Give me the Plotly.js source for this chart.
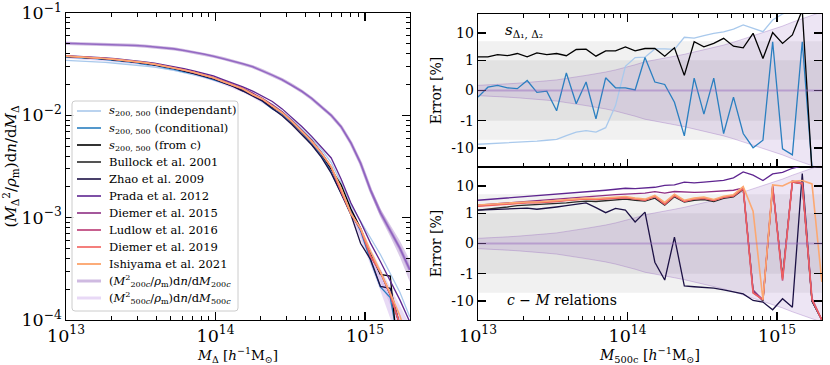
<!DOCTYPE html>
<html><head><meta charset="utf-8">
<script src="https://cdn.plot.ly/plotly-3.0.1.min.js"></script>
<style>body{margin:0;background:#fff}#chart{width:830px;height:365px}</style>
</head><body><div id="chart"></div>
<script>
// ---------- DATA ----------
const logMass = [13.000,13.066,13.131,13.197,13.263,13.329,13.394,13.460,13.526,13.591,13.657,13.723,13.789,13.854,13.920,13.986,14.051,14.117,14.183,14.249,14.314,14.380,14.446,14.511,14.577,14.643,14.709,14.774,14.840,14.906,14.971,15.037,15.103,15.169,15.234,15.300];
const massFunc500c = [0.03715,0.03673,0.03622,0.03573,0.03508,0.03436,0.03365,0.03273,0.03177,0.03069,0.02944,0.02812,0.02679,0.02541,0.02388,0.02239,0.02070,0.01901,0.01738,0.01560,0.01377,0.01197,0.01023,0.00841,0.00676,0.00537,0.00407,0.00288,0.00191,0.00120,0.000708,0.000427,0.000257,0.000158,0.0000977,0.0000562];
const massFunc200c = [0.05058,0.05035,0.05012,0.04989,0.04955,0.04920,0.04875,0.04819,0.04753,0.04667,0.04571,0.04457,0.04305,0.04150,0.03972,0.03784,0.03589,0.03388,0.03199,0.02979,0.02723,0.02472,0.02228,0.01972,0.01718,0.01462,0.01216,0.01000,0.00776,0.00537,0.00339,0.00186,0.00112,0.000759,0.000501,0.000309];
// mass-function uncertainty [%]
const errBand = [0.17,0.18,0.2,0.22,0.24,0.26,0.29,0.32,0.35,0.39,0.45,0.5,0.55,0.61,0.68,0.76,0.85,0.95,1.05,1.2,1.4,1.65,2.0,2.4,2.9,3.6,4.6,6,8,10.5,14,18,25,34,45,60];
// scatter-model errors [%]
const errIndependant = [-7.3,-7.0,-6.8,-6.6,-6.3,-6.0,-5.6,-5.2,-4.8,-3.5,-2.6,-2.3,-2.6,-1.8,-0.5,0.8,1.26,1.3,2.6,2.6,2.5,7.0,6.5,8,9.8,11,14,20,15,11.2,30,50,70,80,90,90];
const errConditional = [-0.22,0.11,0.17,0.09,0.06,0.33,-0.06,-0.02,-0.67,0.58,-0.44,0.28,-0.94,0.42,0.09,0.09,0.02,1.26,0.28,0.2,-0.39,-3.6,0.41,-0.78,0.41,-2.95,-0.22,-2.95,-9.8,-5.2,4.8,-10.7,-18,4.8,-50,-60];
const errFromC = [1.33,1.33,1.62,1.47,1.77,1.33,1.86,1.62,1.77,1.47,2.48,2.55,1.41,2.2,2.2,3.1,2.2,2.7,2.7,1.41,2.86,0.5,4.8,3.1,4.15,6.4,3.3,2.86,9.8,1.16,10.4,4.15,8.5,70,-70,-70];
// c-M relation errors [%]
const errBullock = [1.3,1.4,1.5,1.7,1.9,2.0,2.0,2.1,2.2,2.4,2.6,2.8,2.7,2.9,3.1,3.3,3.0,2.8,3.6,2.0,4.0,2.6,3.0,3.2,2.7,3.5,4.0,7.5,-4,-10,9,-1.3,14,12,-10,-50];
const errZhao = [1.3,1.35,1.4,1.45,1.5,1.55,1.4,1.5,1.7,1.9,2.2,2.4,1.6,1.05,1.5,1.3,0.71,1.1,-0.62,-1.7,0.21,-2.8,-3.0,-3.1,-3.4,-3.9,-4.5,-5.5,-9.6,-11,-21,-8.3,-17,29,-10,-50];
const errPrada = [3.0,3.2,3.4,3.6,3.8,4.0,4.3,4.6,4.9,5.2,5.6,5.8,6.5,7.0,7.6,8.3,8.0,8.6,9.0,10.6,11,14,13,14,15,16,20,33,25,16,28,32,45,55,60,70];
const errDiemer15 = [2.0,2.1,2.2,2.3,2.5,2.7,2.9,3.1,3.3,3.6,3.8,4.1,4.3,4.6,4.8,5.0,5.2,5.5,6.2,5.5,6.3,6.0,5.8,6.0,6.2,6.5,7.0,8.5,-4,-9,10,-1.5,15,13,-9,-50];
const errLudlow = [1.9,2.0,2.1,2.3,2.4,2.5,2.5,2.6,2.8,3.0,3.2,3.4,3.3,3.5,3.6,3.8,3.4,3.1,4.2,2.2,4.5,2.8,3.4,3.6,3.0,3.9,4.4,8.5,-5,-9,10,-1.8,15,13,-8,-50];
const errDiemer19 = [1.8,1.9,2.0,2.2,2.3,2.4,2.4,2.5,2.7,2.9,3.1,3.3,3.2,3.4,3.5,3.7,3.3,3.0,4.1,2.1,4.4,2.7,3.3,3.5,2.9,3.8,4.3,8,-5,-9,9,-1.6,14,12,-9,-50];
const errIshiyama = [2.0,2.1,2.2,2.4,2.5,2.6,2.6,2.8,3.0,3.2,3.4,3.6,3.5,3.7,3.9,4.1,3.6,3.3,4.5,2.5,5.0,3.0,3.6,3.9,3.2,4.2,4.8,9.5,1.2,-9,11,10,15,16,12,-2];
const errTicks = [-10,-1,0,1,10];
const errTickText = ['-10','-1','0','1','10'];
const legendLabels = [
  '<i>s</i><sub>200, 500</sub> (independant)',
  '<i>s</i><sub>200, 500</sub> (conditional)',
  '<i>s</i><sub>200, 500</sub> (from c)',
  'Bullock et al. 2001','Zhao et al. 2009','Prada et al. 2012','Diemer et al. 2015',
  'Ludlow et al. 2016','Diemer et al. 2019','Ishiyama et al. 2021',
  '(<i>M</i><sup>2</sup><sub>200<i>c</i></sub>/<i>ρ</i><sub>m</sub>)d<i>n</i>/d<i>M</i><sub>200<i>c</i></sub>',
  '(<i>M</i><sup>2</sup><sub>500<i>c</i></sub>/<i>ρ</i><sub>m</sub>)d<i>n</i>/d<i>M</i><sub>500<i>c</i></sub>'
];

// ---------- helpers ----------
const mass = logMass.map(v => Math.pow(10, v));
const LIN = 1 / (1 - 1 / 10);
const symlog = v => { const a = Math.abs(v); return a <= 1 ? v * LIN : Math.sign(v) * (LIN + Math.log10(a)); };
const S = arr => arr.map(symlog);
const pred = err => massFunc500c.map((m, i) => m * (1 + err[i] / 100));
const YMAX = symlog(50);
const FONT = 'DejaVu Serif';
const W = 830, H = 365;
const px = v => v / W, py = v => 1 - v / H;

const purple = 'rgba(148,103,189,';
const styles = [
  ['#a9c9ec', 1.3], ['#2a7fc0', 1.3], ['#000000', 1.3],
  ['#2a2a2a', 1.3], ['#1c1145', 1.3], ['#5e2590', 1.3], ['#8e2f84', 1.3],
  ['#c4588a', 1.6], ['#f2605c', 1.3], ['#fca872', 1.6],
  [purple + '0.45)', 3.2], ['rgba(205,170,235,0.45)', 3.2]
];
const errSeries = [errIndependant, errConditional, errFromC, errBullock, errZhao, errPrada, errDiemer15, errLudlow, errDiemer19, errIshiyama];

const traces = [];
const base = {mode:'lines', showlegend:false, hoverinfo:'skip'};
// left-panel uncertainty bands
traces.push(Object.assign({}, base, {x: mass, y: massFunc500c.map((m,i)=>m*(1-errBand[i]/100)), line:{width:0}, xaxis:'x', yaxis:'y'}));
traces.push(Object.assign({}, base, {x: mass, y: massFunc500c.map((m,i)=>m*(1+errBand[i]/100)), line:{width:0}, fill:'tonexty', fillcolor:'rgba(190,150,225,0.35)', xaxis:'x', yaxis:'y'}));
traces.push(Object.assign({}, base, {x: mass, y: massFunc200c.map((m,i)=>m*(1-errBand[i]/250)), line:{width:0}, xaxis:'x', yaxis:'y'}));
traces.push(Object.assign({}, base, {x: mass, y: massFunc200c.map((m,i)=>m*(1+errBand[i]/250)), line:{width:0}, fill:'tonexty', fillcolor:purple+'0.35)', xaxis:'x', yaxis:'y'}));
// reference mass functions
traces.push(Object.assign({}, base, {x: mass, y: massFunc200c, line:{color:styles[10][0], width:3.2}, xaxis:'x', yaxis:'y'}));
traces.push(Object.assign({}, base, {x: mass, y: massFunc500c, line:{color:styles[11][0], width:3.2}, xaxis:'x', yaxis:'y'}));
traces.push(Object.assign({}, base, {x: mass, y: massFunc200c, line:{color:'rgba(130,80,185,0.75)', width:1.6}, xaxis:'x', yaxis:'y'}));
// predictions in left panel
errSeries.forEach((e, k) => {
  traces.push(Object.assign({}, base, {x: mass, y: pred(e), line:{color:styles[k][0], width:styles[k][1]}, xaxis:'x', yaxis:'y'}));
});
// right panels: uncertainty bands
['2','3'].forEach(ax => {
  traces.push(Object.assign({}, base, {x: mass, y: S(errBand.map(v=>-v)), line:{color:purple+'0.35)', width:1}, xaxis:'x'+ax, yaxis:'y'+ax}));
  traces.push(Object.assign({}, base, {x: mass, y: S(errBand), line:{color:purple+'0.35)', width:1}, fill:'tonexty', fillcolor:purple+'0.17)', xaxis:'x'+ax, yaxis:'y'+ax}));
});
errSeries.forEach((e, k) => {
  const ax = k < 3 ? '2' : '3';
  traces.push(Object.assign({}, base, {x: mass, y: S(e), line:{color:styles[k][0], width:k < 3 ? 1.3 : styles[k][1]}, xaxis:'x'+ax, yaxis:'y'+ax}));
});

// ---------- LAYOUT ----------
const tickFont = {family: FONT, size: 14, color: '#000'};
const logX = (extra) => Object.assign({
  type:'log', range:[13, Math.log10(2e15)], dtick:1, exponentformat:'power',
  ticks:'inside', ticklen:8, tickwidth:1.2, tickcolor:'#000',
  minor:{ticks:'inside', ticklen:4, tickwidth:1, tickcolor:'#000', showgrid:false},
  showline:true, linecolor:'#000', linewidth:1.4, mirror:'ticks',
  showgrid:false, zeroline:false, tickfont: tickFont
}, extra);
const errY = (extra) => Object.assign({
  range:[-YMAX, YMAX], tickvals: errTicks.map(symlog), ticktext: errTickText,
  ticks:'inside', ticklen:8, tickwidth:1.2, tickcolor:'#000',
  showline:true, linecolor:'#000', linewidth:1.4, mirror:'ticks',
  showgrid:false, zeroline:false, tickfont: tickFont,
  title:{text:'Error [%]', font:{family:FONT, size:14}, standoff:6}
}, extra);

const shapes = [];
['2','3'].forEach(ax => {
  shapes.push({type:'rect', xref:'x'+ax+' domain', x0:0, x1:1, yref:'y'+ax, y0:symlog(-5), y1:symlog(5), fillcolor:'#f1f1f1', line:{width:0}, layer:'below'});
  shapes.push({type:'rect', xref:'x'+ax+' domain', x0:0, x1:1, yref:'y'+ax, y0:symlog(-1), y1:symlog(1), fillcolor:'#e2e2e2', line:{width:0}, layer:'below'});
  shapes.push({type:'line', xref:'x'+ax+' domain', x0:0, x1:1, yref:'y'+ax, y0:0, y1:0, line:{color:purple+'0.45)', width:2}, layer:'above'});
});

// hand-built legend (matplotlib-like compact spacing)
const LX0 = 72, LX1 = 238, LY0 = 101, LY1 = 311, R = 3;
shapes.push({type:'path', xref:'paper', yref:'paper', layer:'above',
  path:`M ${px(LX0+R)},${py(LY0)} L ${px(LX1-R)},${py(LY0)} Q ${px(LX1)},${py(LY0)} ${px(LX1)},${py(LY0+R)} L ${px(LX1)},${py(LY1-R)} Q ${px(LX1)},${py(LY1)} ${px(LX1-R)},${py(LY1)} L ${px(LX0+R)},${py(LY1)} Q ${px(LX0)},${py(LY1)} ${px(LX0)},${py(LY1-R)} L ${px(LX0)},${py(LY0+R)} Q ${px(LX0)},${py(LY0)} ${px(LX0+R)},${py(LY0)} Z`,
  fillcolor:'rgba(255,255,255,0.85)', line:{color:'#cccccc', width:1}});
const annotations = [];
legendLabels.forEach((lab, k) => {
  const yy = 111 + k * 17.0;
  shapes.push({type:'line', xref:'paper', yref:'paper', layer:'above', x0:px(77), x1:px(101), y0:py(yy), y1:py(yy),
    line:{color:styles[k][0], width: k >= 10 ? 3 : styles[k][1] + 0.3}});
  annotations.push({xref:'paper', yref:'paper', x:px(107), y:py(yy), xanchor:'left', yanchor:'middle', showarrow:false,
    text:lab, font:{family:FONT, size:11.5, color:'#000'}});
});
annotations.push(
  {xref:'paper', yref:'paper', x:px(503), y:py(31), xanchor:'left', yanchor:'middle', showarrow:false,
   text:'<i>s</i><sub>Δ₁, Δ₂</sub>', font:{family:FONT, size:15}},
  {xref:'paper', yref:'paper', x:px(505), y:py(300), xanchor:'left', yanchor:'middle', showarrow:false,
   text:'<i>c</i> − <i>M</i> relations', font:{family:FONT, size:14}}
);

const layout = {
  width:W, height:H, margin:{l:0, r:0, t:0, b:0},
  paper_bgcolor:'#fff', plot_bgcolor:'#fff',
  font:{family:FONT, color:'#000'},
  showlegend:false,
  xaxis: logX({domain:[px(66), px(410)], anchor:'y',
    title:{text:'<i>M</i><sub>Δ</sub> [<i>h</i><sup>−1</sup>M<sub>⊙</sub>]', font:{family:FONT, size:13.5}, standoff:6}}),
  yaxis: {type:'log', range:[-4,-1], dtick:1, exponentformat:'power', domain:[py(320), py(13)], anchor:'x',
    ticks:'inside', ticklen:8, tickwidth:1.2, tickcolor:'#000',
    minor:{ticks:'inside', ticklen:4, tickwidth:1, tickcolor:'#000', showgrid:false},
    showline:true, linecolor:'#000', linewidth:1.4, mirror:'ticks', showgrid:false, zeroline:false, tickfont:tickFont,
    title:{text:'(<i>M</i><sub>Δ</sub><sup>2</sup>/<i>ρ</i><sub>m</sub>)d<i>n</i>/d<i>M</i><sub>Δ</sub>', font:{family:FONT, size:15}, standoff:4}},
  xaxis2: logX({domain:[px(478), px(822)], anchor:'y2', matches:'x3', showticklabels:false}),
  yaxis2: errY({domain:[py(167), py(14)], anchor:'x2'}),
  xaxis3: logX({domain:[px(478), px(822)], anchor:'y3', mirror:true,
    title:{text:'<i>M</i><sub>500c</sub> [<i>h</i><sup>−1</sup>M<sub>⊙</sub>]', font:{family:FONT, size:14}, standoff:6}}),
  yaxis3: errY({domain:[py(320), py(167)], anchor:'x3'}),
  shapes: shapes,
  annotations: annotations
};

Plotly.newPlot('chart', traces, layout, {staticPlot:true, displayModeBar:false});
</script></body></html>
